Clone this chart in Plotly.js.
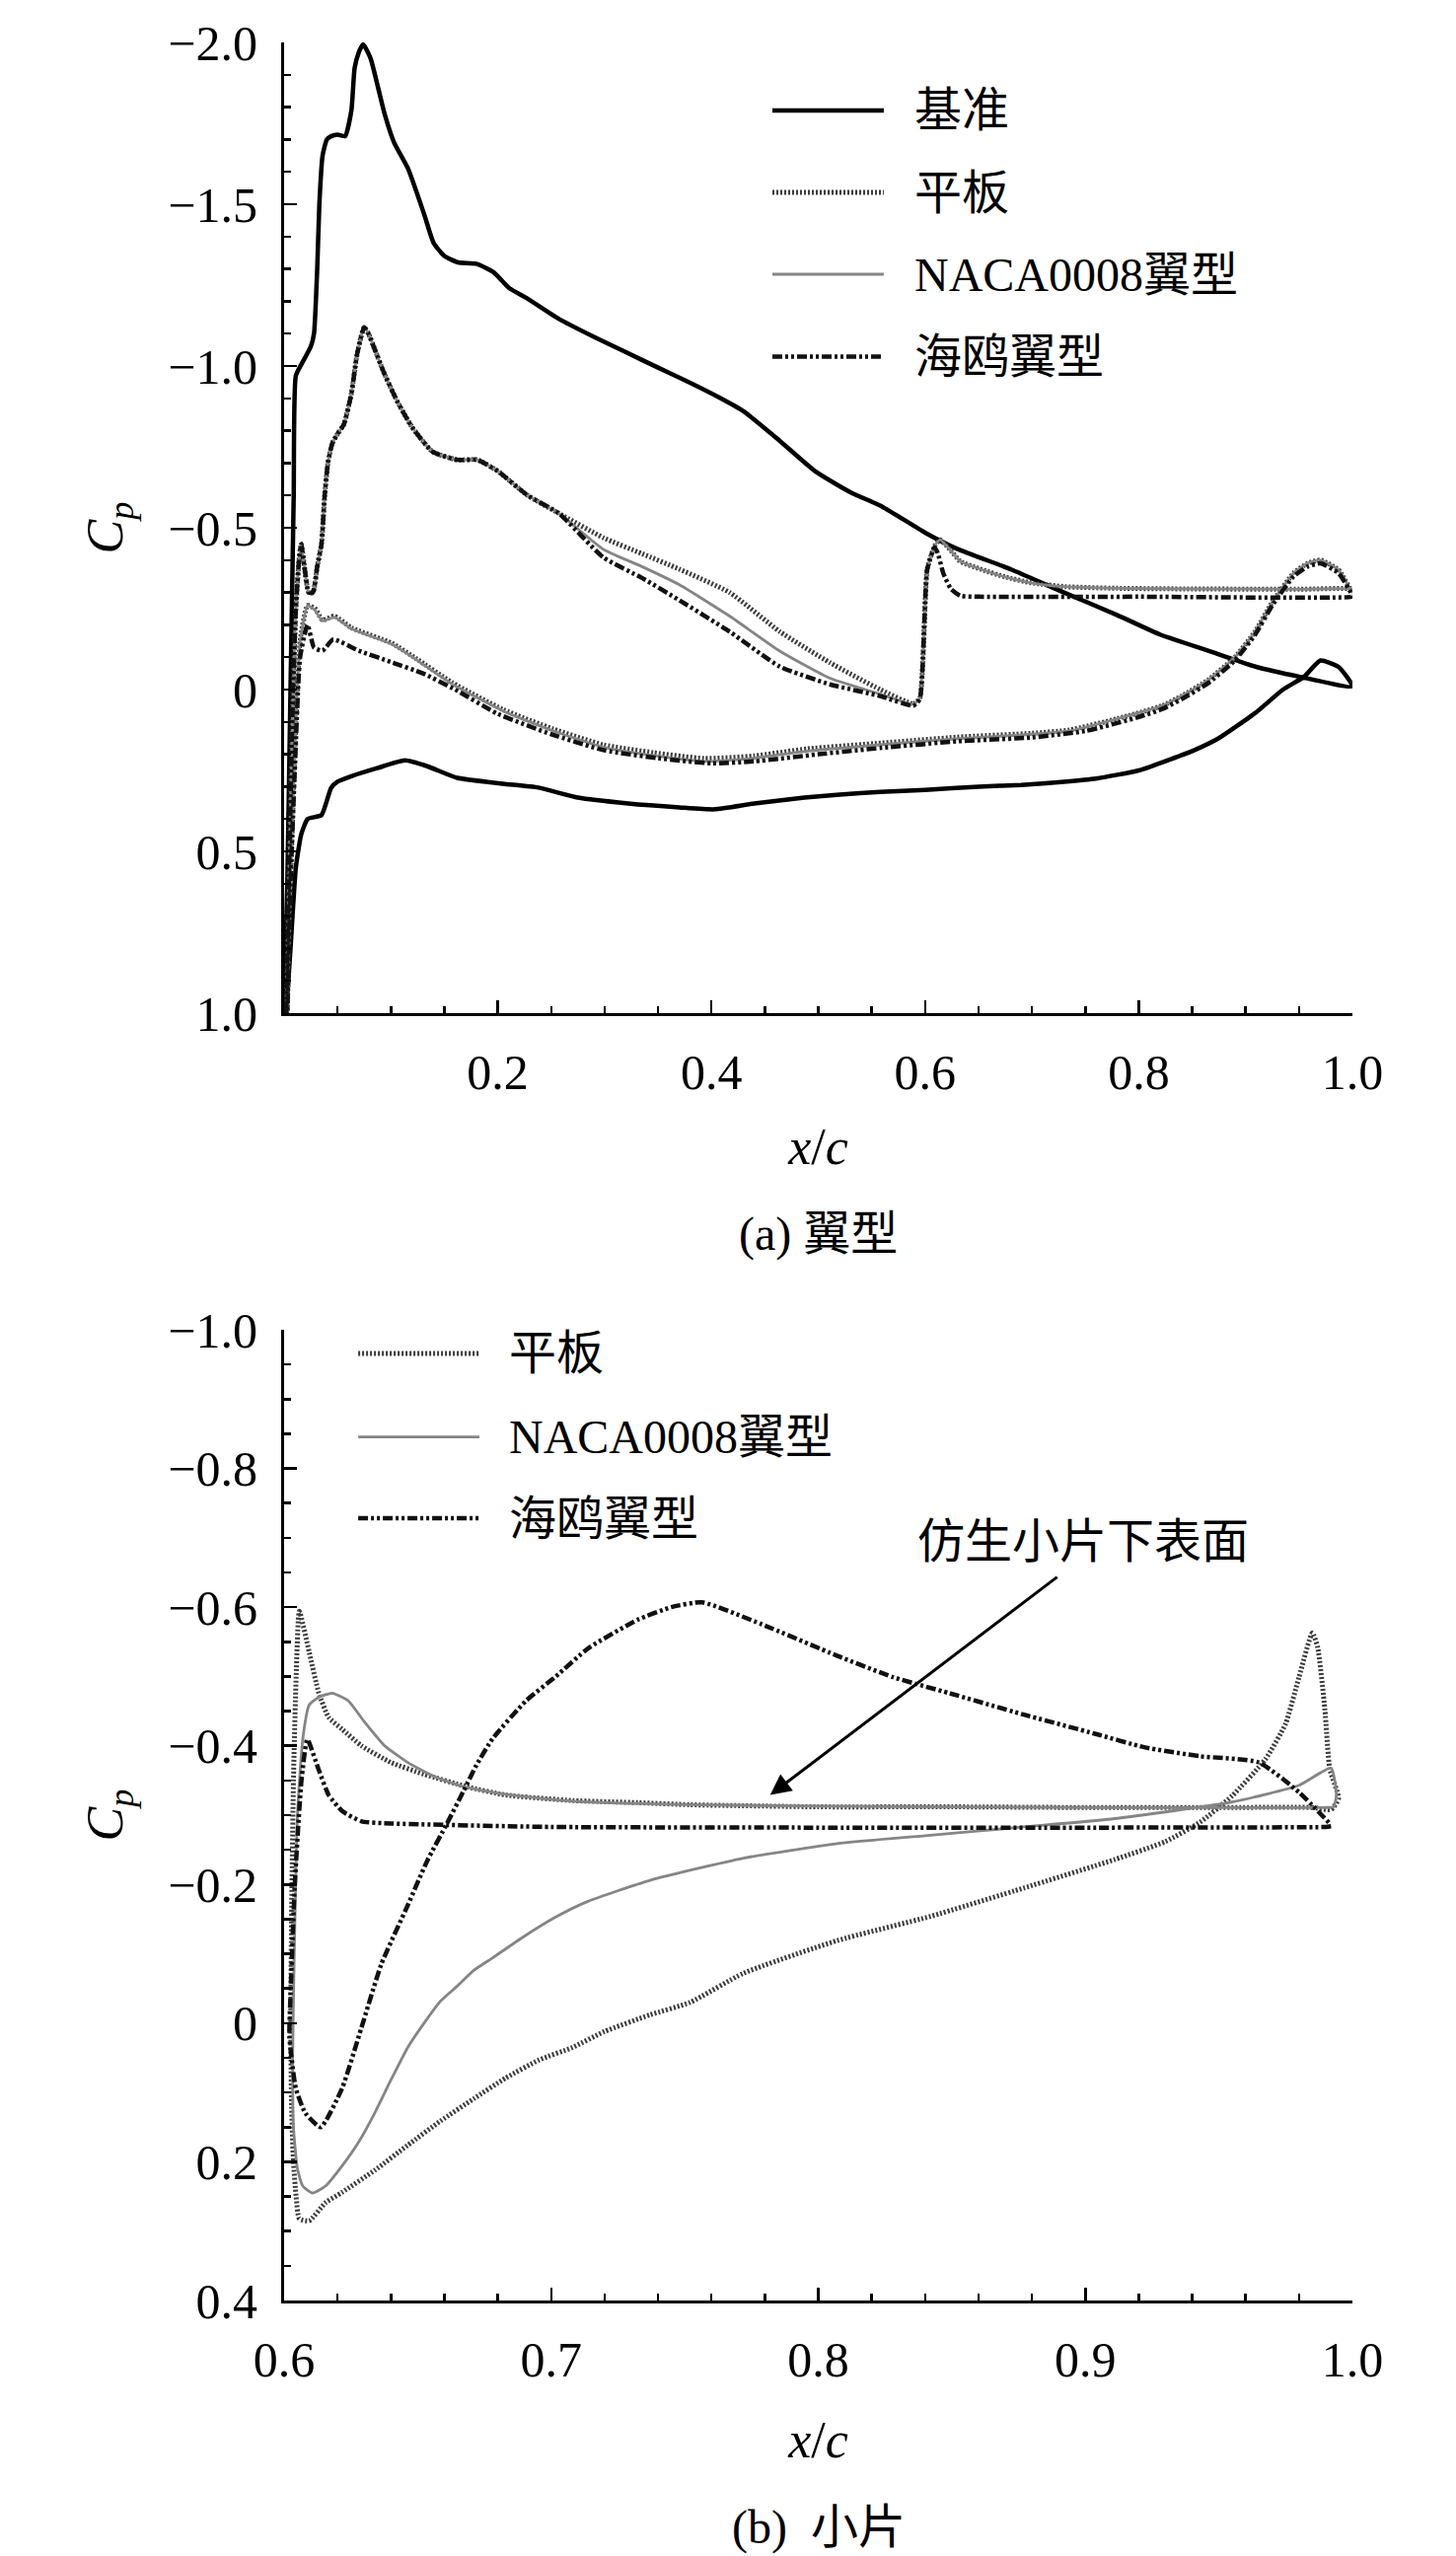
<!DOCTYPE html>
<html>
<head>
<meta charset="utf-8">
<script src="https://cdn.plot.ly/plotly-3.0.1.min.js"></script>
<style>
  body { margin: 0; background: #fff; }
  #chart { width: 1476px; height: 2591px; }
</style>
</head>
<body>
<div id="chart"></div>
<script>
// ---- (a) 翼型 : airfoil Cp ----
var baseX = [0.000, 0.003, 0.006, 0.009, 0.011, 0.017, 0.025, 0.028, 0.031, 0.033, 0.036, 0.040, 0.044, 0.050, 0.057, 0.063, 0.066, 0.070, 0.074, 0.081, 0.088, 0.094, 0.103, 0.116, 0.131, 0.140, 0.150, 0.163, 0.180, 0.196, 0.211, 0.227, 0.257, 0.290, 0.319, 0.350, 0.380, 0.407, 0.430, 0.460, 0.497, 0.530, 0.560, 0.600, 0.630, 0.680, 0.730, 0.780, 0.820, 0.865, 0.910, 0.950, 1.000,
             0.987, 0.970, 0.955, 0.935, 0.910, 0.875, 0.850, 0.830, 0.800, 0.760, 0.730, 0.690, 0.650, 0.600, 0.558, 0.520, 0.487, 0.440, 0.403, 0.370, 0.322, 0.275, 0.238, 0.205, 0.162, 0.134, 0.113, 0.087, 0.063, 0.050, 0.044, 0.035, 0.022, 0.016, 0.011, 0.006, 0.002];
var baseY = [1.00, 0.60, 0.00, -0.60, -0.97, -1.01, -1.06, -1.10, -1.30, -1.50, -1.65, -1.70, -1.71, -1.715, -1.71, -1.79, -1.92, -1.97, -1.994, -1.95, -1.86, -1.78, -1.69, -1.61, -1.47, -1.38, -1.34, -1.32, -1.316, -1.29, -1.24, -1.21, -1.146, -1.09, -1.044, -0.995, -0.948, -0.903, -0.86, -0.78, -0.675, -0.61, -0.565, -0.485, -0.435, -0.372, -0.30, -0.23, -0.17, -0.12, -0.07, -0.04, -0.01,
             -0.07, -0.09, -0.04, 0.00, 0.07, 0.15, 0.19, 0.215, 0.25, 0.275, 0.285, 0.295, 0.30, 0.31, 0.316, 0.325, 0.334, 0.352, 0.370, 0.364, 0.352, 0.334, 0.303, 0.291, 0.273, 0.237, 0.219, 0.243, 0.268, 0.285, 0.304, 0.388, 0.40, 0.448, 0.55, 0.80, 1.00];

var flatAirX = [0.002, 0.005, 0.008, 0.011, 0.014, 0.016, 0.019, 0.023, 0.027, 0.031, 0.035, 0.038, 0.041, 0.045, 0.050, 0.056, 0.063, 0.068, 0.072, 0.075, 0.079, 0.085, 0.094, 0.106, 0.120, 0.139, 0.162, 0.181, 0.200, 0.228, 0.257, 0.299, 0.335, 0.370, 0.417, 0.464, 0.511, 0.558, 0.589, 0.595, 0.602, 0.609, 0.614, 0.624, 0.633, 0.652, 0.675, 0.699, 0.731, 0.780, 0.850, 0.950, 1.000,
                1.000, 0.987, 0.970, 0.958, 0.945, 0.925, 0.909, 0.890, 0.865, 0.840, 0.822, 0.780, 0.735, 0.700, 0.630, 0.560, 0.490, 0.440, 0.393, 0.346, 0.299, 0.252, 0.205, 0.157, 0.124, 0.101, 0.063, 0.047, 0.036, 0.029, 0.022, 0.015, 0.010, 0.006, 0.003];
var flatAirY = [1.00, 0.50, 0.05, -0.25, -0.40, -0.45, -0.38, -0.30, -0.30, -0.38, -0.45, -0.60, -0.70, -0.76, -0.79, -0.82, -0.915, -1.03, -1.09, -1.12, -1.10, -1.05, -0.975, -0.89, -0.81, -0.735, -0.71, -0.71, -0.675, -0.60, -0.545, -0.469, -0.42, -0.372, -0.30, -0.179, -0.083, 0.00, 0.044, 0.026, -0.372, -0.444, -0.463, -0.43, -0.396, -0.372, -0.348, -0.33, -0.318, -0.313, -0.311, -0.31, -0.31,
                -0.30, -0.37, -0.40, -0.39, -0.36, -0.27, -0.18, -0.10, -0.03, 0.02, 0.05, 0.09, 0.125, 0.135, 0.147, 0.165, 0.183, 0.205, 0.213, 0.195, 0.171, 0.122, 0.062, -0.022, -0.095, -0.143, -0.191, -0.227, -0.215, -0.25, -0.26, -0.15, 0.20, 0.60, 1.00];

var nacaAirX = flatAirX.slice();
var nacaAirY = [1.00, 0.50, 0.05, -0.25, -0.40, -0.45, -0.38, -0.30, -0.30, -0.38, -0.45, -0.60, -0.70, -0.76, -0.79, -0.82, -0.915, -1.03, -1.09, -1.12, -1.10, -1.05, -0.975, -0.89, -0.81, -0.735, -0.71, -0.71, -0.675, -0.60, -0.545, -0.433, -0.38, -0.324, -0.227, -0.119, -0.035, 0.014, 0.045, 0.026, -0.372, -0.444, -0.463, -0.43, -0.396, -0.372, -0.348, -0.33, -0.318, -0.313, -0.311, -0.31, -0.31,
                -0.30, -0.37, -0.40, -0.39, -0.36, -0.27, -0.18, -0.10, -0.03, 0.02, 0.05, 0.09, 0.128, 0.138, 0.152, 0.170, 0.190, 0.212, 0.222, 0.204, 0.178, 0.128, 0.066, -0.018, -0.092, -0.140, -0.188, -0.224, -0.212, -0.245, -0.26, -0.15, 0.20, 0.60, 1.00];

var gullAirX = [0.002, 0.005, 0.008, 0.011, 0.014, 0.016, 0.019, 0.023, 0.027, 0.031, 0.035, 0.038, 0.041, 0.045, 0.050, 0.056, 0.063, 0.068, 0.072, 0.075, 0.079, 0.085, 0.094, 0.106, 0.120, 0.139, 0.162, 0.181, 0.200, 0.228, 0.257, 0.299, 0.335, 0.370, 0.417, 0.464, 0.511, 0.558, 0.589, 0.595, 0.602, 0.609, 0.612, 0.617, 0.624, 0.633, 0.650, 0.800, 1.000,
                1.000, 0.987, 0.970, 0.958, 0.945, 0.925, 0.909, 0.890, 0.865, 0.840, 0.822, 0.800, 0.750, 0.700, 0.630, 0.560, 0.500, 0.440, 0.400, 0.350, 0.300, 0.250, 0.200, 0.160, 0.130, 0.100, 0.070, 0.046, 0.036, 0.028, 0.022, 0.015, 0.010, 0.006, 0.003];
var gullAirY = [1.00, 0.50, 0.05, -0.25, -0.40, -0.45, -0.38, -0.30, -0.30, -0.38, -0.45, -0.60, -0.70, -0.76, -0.79, -0.82, -0.915, -1.03, -1.09, -1.12, -1.10, -1.05, -0.975, -0.89, -0.81, -0.735, -0.71, -0.71, -0.675, -0.60, -0.545, -0.408, -0.345, -0.276, -0.179, -0.071, -0.016, 0.02, 0.05, 0.03, -0.372, -0.44, -0.42, -0.36, -0.312, -0.29, -0.287, -0.287, -0.287,
                -0.29, -0.36, -0.39, -0.38, -0.35, -0.26, -0.17, -0.09, -0.02, 0.03, 0.06, 0.085, 0.128, 0.148, 0.16, 0.18, 0.20, 0.222, 0.228, 0.212, 0.188, 0.138, 0.075, 0.00, -0.05, -0.085, -0.12, -0.155, -0.12, -0.13, -0.20, -0.10, 0.25, 0.60, 1.00];

// ---- (b) 小片 : small piece Cp ----
var flatPieceX = [0.992, 0.985, 0.950, 0.900, 0.850, 0.800, 0.752, 0.7325, 0.708, 0.683, 0.6684, 0.6524, 0.640, 0.629, 0.6217, 0.6167, 0.613, 0.6094, 0.6057, 0.6045, 0.6035, 0.6028, 0.6025, 0.6028, 0.6035, 0.6045, 0.6057, 0.6094, 0.6155, 0.6217, 0.634, 0.6463, 0.6586, 0.671, 0.683, 0.6955, 0.708, 0.720, 0.737, 0.752, 0.772, 0.807, 0.842, 0.877, 0.911, 0.930, 0.943, 0.955, 0.9675, 0.975, 0.980, 0.985, 0.987, 0.9897, 0.9915, 0.9948, 0.992];
var flatPieceY = [-0.308, -0.311, -0.311, -0.311, -0.312, -0.312, -0.315, -0.318, -0.321, -0.329, -0.341, -0.359, -0.376, -0.40, -0.424, -0.441, -0.476, -0.535, -0.594, -0.50, -0.35, -0.15, 0.00, 0.12, 0.20, 0.25, 0.282, 0.285, 0.259, 0.244, 0.212, 0.176, 0.141, 0.109, 0.079, 0.053, 0.035, 0.012, -0.012, -0.03, -0.072, -0.119, -0.154, -0.195, -0.236, -0.262, -0.29, -0.328, -0.381, -0.432, -0.499, -0.563, -0.542, -0.452, -0.367, -0.324, -0.308];

var nacaPieceX = [0.993, 0.990, 0.950, 0.900, 0.850, 0.800, 0.752, 0.708, 0.683, 0.6672, 0.656, 0.6463, 0.6377, 0.630, 0.624, 0.618, 0.613, 0.6094, 0.607, 0.605, 0.6038, 0.6032, 0.6035, 0.605, 0.607, 0.6106, 0.6155, 0.6217, 0.628, 0.634, 0.640, 0.6463, 0.6524, 0.6586, 0.6647, 0.671, 0.678, 0.6894, 0.7017, 0.714, 0.737, 0.772, 0.807, 0.842, 0.877, 0.911, 0.955, 0.980, 0.992, 0.994, 0.993];
var nacaPieceY = [-0.312, -0.311, -0.311, -0.311, -0.312, -0.313, -0.315, -0.320, -0.330, -0.341, -0.356, -0.376, -0.40, -0.435, -0.465, -0.476, -0.47, -0.459, -0.41, -0.30, -0.10, 0.05, 0.15, 0.21, 0.235, 0.245, 0.235, 0.206, 0.171, 0.129, 0.082, 0.035, 0.00, -0.032, -0.053, -0.076, -0.094, -0.124, -0.153, -0.176, -0.206, -0.238, -0.259, -0.271, -0.283, -0.295, -0.319, -0.343, -0.368, -0.33, -0.312];

var gullPieceX = [0.992, 0.990, 0.900, 0.800, 0.700, 0.640, 0.629, 0.6217, 0.6167, 0.613, 0.6087, 0.6065, 0.604, 0.6025, 0.602, 0.6044, 0.608, 0.6137, 0.6217, 0.629, 0.6364, 0.6463, 0.6537, 0.661, 0.6672, 0.672, 0.678, 0.6906, 0.7017, 0.714, 0.7325, 0.745, 0.7565, 0.779, 0.807, 0.828, 0.849, 0.876, 0.904, 0.922, 0.943, 0.965, 0.980, 0.992];
var gullPieceY = [-0.284, -0.283, -0.282, -0.282, -0.283, -0.288, -0.291, -0.306, -0.329, -0.365, -0.409, -0.35, -0.20, -0.05, 0.02, 0.094, 0.13, 0.15, 0.094, 0.006, -0.085, -0.170, -0.235, -0.288, -0.335, -0.372, -0.410, -0.465, -0.50, -0.541, -0.582, -0.600, -0.607, -0.575, -0.530, -0.499, -0.476, -0.446, -0.417, -0.398, -0.385, -0.376, -0.333, -0.286];

// tick labels
var topXTicks = [0.2, 0.4, 0.6, 0.8, 1.0];
var topXText = ['0.2', '0.4', '0.6', '0.8', '1.0'];
var topYTicks = [-2.0, -1.5, -1.0, -0.5, 0, 0.5, 1.0];
var topYText = ['\u22122.0', '\u22121.5', '\u22121.0', '\u22120.5', '0', '0.5', '1.0'];
var botXTicks = [0.6, 0.7, 0.8, 0.9, 1.0];
var botXText = ['0.6', '0.7', '0.8', '0.9', '1.0'];
var botYTicks = [-1.0, -0.8, -0.6, -0.4, -0.2, 0, 0.2, 0.4];
var botYText = ['\u22121.0', '\u22120.8', '\u22120.6', '\u22120.4', '\u22120.2', '0', '0.2', '0.4'];

var legendNames = ['基准', '平板', 'NACA0008翼型', '海鸥翼型'];

// line styles
var fam = '"Liberation Serif", "Times New Roman", "Noto Sans CJK SC", serif';
var styleBase = {color: '#000', width: 4.5, shape: 'spline', smoothing: 0.5};
var styleFlat = {color: '#3c3c3c', width: 5, dash: '2px,2px', shape: 'spline', smoothing: 0.5};
var styleNaca = {color: '#858585', width: 2.8, shape: 'spline', smoothing: 0.5};
var styleGull = {color: '#111', width: 4.5, dash: '10px,3px,3px,3px,3px,3px', shape: 'spline', smoothing: 0.5};

function tr(x, y, line, xa, ya) {
  return {x: x, y: y, type: 'scatter', mode: 'lines', line: line,
          xaxis: xa, yaxis: ya, showlegend: false, hoverinfo: 'skip'};
}

var traces = [
  tr(baseX, baseY, styleBase, 'x', 'y'),
  tr(flatAirX, flatAirY, styleFlat, 'x', 'y'),
  tr(nacaAirX, nacaAirY, styleNaca, 'x', 'y'),
  tr(gullAirX, gullAirY, styleGull, 'x', 'y'),
  tr(flatPieceX, flatPieceY, styleFlat, 'x2', 'y2'),
  tr(nacaPieceX, nacaPieceY, styleNaca, 'x2', 'y2'),
  tr(gullPieceX, gullPieceY, styleGull, 'x2', 'y2')
];

function axis(extra) {
  var a = {
    showline: true, linecolor: '#000', linewidth: 3, mirror: false,
    showgrid: false, zeroline: false, ticks: 'inside', ticklen: 13,
    tickwidth: 2.5, tickcolor: '#000', tickmode: 'array', automargin: false,
    tickfont: {family: fam, size: 50, color: '#000'}
  };
  for (var k in extra) a[k] = extra[k];
  return a;
}
function minor(step, start) {
  return {dtick: step, tick0: start, ticks: 'inside', ticklen: 7, tickwidth: 2.5, tickcolor: '#000', showgrid: false};
}

var xDom = [288 / 1476, 1371 / 1476];
var titleFont = {family: fam, size: 52, color: '#000'};
var textFont = {family: fam, size: 48, color: '#000'};

// legend drawn as sample lines + labels
function sample(st) {
  return {color: st.color, width: st.width, dash: st.dash || 'solid'};
}
var shapes = [];
var annotations = [];
var topRows = [0.9568, 0.9247, 0.8927, 0.8605];
var topStyles = [styleBase, styleFlat, styleNaca, styleGull];
for (var i = 0; i < 4; i++) {
  shapes.push({type: 'line', xref: 'paper', yref: 'paper', x0: 0.5305, x1: 0.607,
               y0: topRows[i], y1: topRows[i], line: sample(topStyles[i])});
  annotations.push({xref: 'paper', yref: 'paper', x: 0.627, y: topRows[i], xanchor: 'left',
                    yanchor: 'middle', text: legendNames[i], showarrow: false, font: textFont});
}
var botRows = [0.4705, 0.4378, 0.4060];
var botStyles = [styleFlat, styleNaca, styleGull];
for (var j = 0; j < 3; j++) {
  shapes.push({type: 'line', xref: 'paper', yref: 'paper', x0: 0.246, x1: 0.3293,
               y0: botRows[j], y1: botRows[j], line: sample(botStyles[j])});
  annotations.push({xref: 'paper', yref: 'paper', x: 0.348, y: botRows[j], xanchor: 'left',
                    yanchor: 'middle', text: legendNames[j + 1], showarrow: false, font: textFont});
}

// arrow + label in panel (b)
annotations.push({xref: 'x2', yref: 'y2', axref: 'x2', ayref: 'y2',
                  x: 0.782, y: -0.329, ax: 0.890, ay: -0.645, text: '',
                  showarrow: true, arrowhead: 2, arrowsize: 1.4, arrowwidth: 3, arrowcolor: '#000'});
annotations.push({xref: 'x2', yref: 'y2', x: 0.899, y: -0.695, text: '仿生小片下表面',
                  showarrow: false, font: textFont});

// captions
annotations.push({xref: 'paper', yref: 'paper', x: 0.5623, y: 0.5172, text: '(a) 翼型',
                  showarrow: false, font: textFont});
annotations.push({xref: 'paper', yref: 'paper', x: 0.5623, y: 0, yanchor: 'bottom', text: '(b)  小片',
                  showarrow: false, font: textFont});

var layout = {
  width: 1476, height: 2591, autosize: false,
  margin: {l: 0, r: 0, t: 0, b: 0},
  paper_bgcolor: '#fff', plot_bgcolor: '#fff',
  showlegend: false,
  xaxis: axis({domain: xDom, anchor: 'y', range: [0, 1], tickvals: topXTicks, ticktext: topXText,
               ticklabelstandoff: 14, minor: minor(0.05, 0),
               title: {text: '<i>x</i>/<i>c</i>', font: titleFont, standoff: 30}}),
  yaxis: axis({domain: [1 - 1027 / 2591, 1 - 43 / 2591], anchor: 'x', range: [1.0, -2.0],
               tickvals: topYTicks, ticktext: topYText, ticklabelstandoff: 14, minor: minor(0.1, 0),
               title: {text: '<i>C</i><sub><i>p</i></sub>', font: titleFont, standoff: 30}}),
  xaxis2: axis({domain: xDom, anchor: 'y2', range: [0.6, 1.0], tickvals: botXTicks, ticktext: botXText,
                ticklabelstandoff: 14, minor: minor(0.02, 0.6),
                title: {text: '<i>x</i>/<i>c</i>', font: titleFont, standoff: 36}}),
  yaxis2: axis({domain: [1 - 2332 / 2591, 1 - 1348 / 2591], anchor: 'x2', range: [0.4, -1.0],
                tickvals: botYTicks, ticktext: botYText, ticklabelstandoff: 14, minor: minor(0.05, 0),
                title: {text: '<i>C</i><sub><i>p</i></sub>', font: titleFont, standoff: 30}}),
  shapes: shapes,
  annotations: annotations
};

Plotly.newPlot('chart', traces, layout, {staticPlot: true});
</script>
</body>
</html>
